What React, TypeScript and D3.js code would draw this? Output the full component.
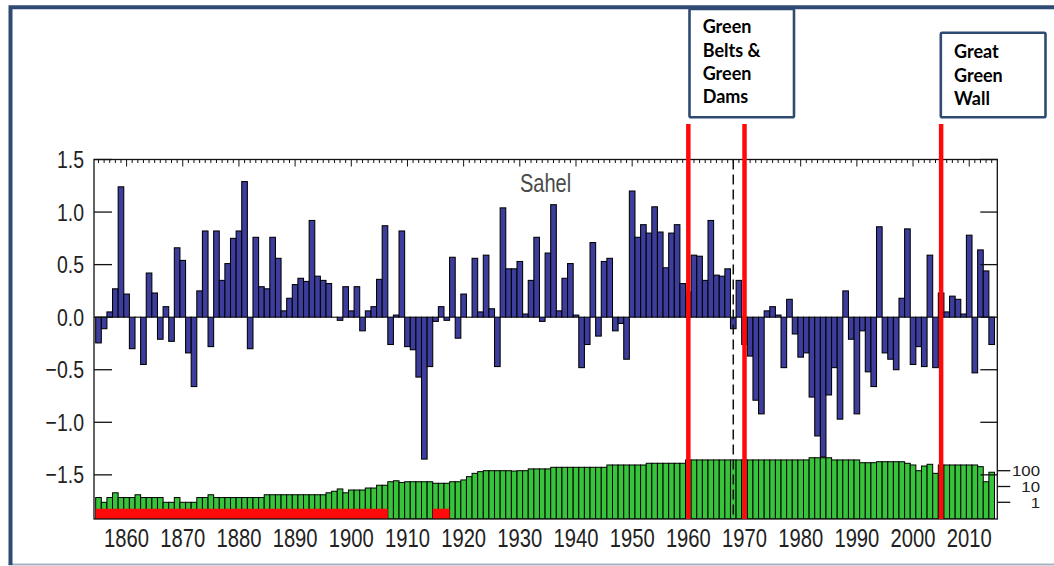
import React from 'react';
import * as d3 from 'd3';

// ---------- data ----------
const years: number[] = d3.range(1855, 2015);

// Sahel precipitation anomaly, 1855–2014
const anomaly: number[] = [
  -0.245, -0.11, 0.05, 0.27, 1.24, 0.22, -0.30, 0.0, -0.45, 0.42,
  0.23, -0.21, 0.10, -0.23, 0.66, 0.54, -0.34, -0.66, 0.25, 0.82,
  -0.28, 0.82, 0.35, 0.51, 0.75, 0.82, 1.29, -0.30, 0.76, 0.29,
  0.27, 0.76, 0.56, 0.06, 0.18, 0.31, 0.37, 0.34, 0.92, 0.39,
  0.35, 0.32, 0.0, -0.03, 0.29, 0.06, 0.29, -0.13, 0.06, 0.10,
  0.36, 0.87, -0.26, 0.02, 0.82, -0.28, -0.31, -0.57, -1.35, -0.47,
  -0.04, 0.10, -0.03, 0.57, -0.20, 0.22, 0.0, 0.56, 0.05, 0.59,
  0.08, -0.47, 1.04, 0.46, 0.46, 0.53, 0.03, 0.35, 0.76, -0.04,
  0.61, 1.07, 0.06, 0.37, 0.51, 0.02, -0.48, -0.26, 0.71, -0.18,
  0.53, 0.56, -0.13, -0.06, -0.40, 1.20, 0.76, 0.88, 0.80, 1.05,
  0.81, 0.47, 0.80, 0.88, 0.32, 0.24, 0.59, 0.58, 0.35, 0.92,
  0.40, 0.39, 0.46, -0.11, 0.35, -0.26, -0.37, -0.79, -0.92, 0.06,
  0.10, 0.02, -0.48, 0.17, -0.16, -0.38, -0.34, -0.76, -1.13, -1.33,
  -0.74, -0.48, -0.97, 0.25, -0.21, -0.92, -0.13, -0.52, -0.66, 0.86,
  -0.34, -0.40, -0.50, 0.18, 0.84, -0.45, -0.28, -0.47, 0.59, -0.48,
  0.23, 0.05, 0.20, 0.17, 0.03, 0.78, -0.53, 0.64, 0.44, -0.26,
];

// number of stations (log scale), 1855–2014
const stations: number[] = [
  2, 1, 2, 4, 2, 2, 2, 3, 2, 2,
  2, 2, 1, 1, 2, 1, 1, 1, 2, 2,
  3, 2, 2, 2, 2, 2, 2, 2, 2, 2,
  3, 3, 3, 3, 3, 3, 3, 3, 3, 3,
  3, 4, 5, 7, 4, 6, 6, 6, 8, 8,
  12, 12, 20, 23, 18, 20, 20, 20, 20, 20,
  16, 16, 16, 20, 20, 26, 42, 68, 87, 100,
  100, 100, 100, 100, 95, 100, 100, 130, 130, 130,
  130, 164, 164, 164, 164, 164, 164, 164, 164, 164,
  164, 230, 230, 230, 230, 230, 230, 230, 295, 295,
  295, 295, 295, 295, 295, 480, 480, 480, 480, 480,
  480, 480, 480, 480, 480, 480, 480, 480, 480, 480,
  480, 480, 480, 480, 480, 480, 480, 660, 660, 660,
  660, 480, 480, 480, 480, 480, 320, 320, 320, 370,
  370, 370, 370, 370, 295, 230, 100, 198, 254, 68,
  230, 230, 230, 230, 230, 230, 230, 180, 20, 80,
];

const gapPeriods: [number, number][] = [[1855, 1906], [1915, 1917]];
const eventYears: number[] = [1960, 1970, 2005];
const markerYear = 1968;
const yTicks: number[] = [-1.5, -1.0, -0.5, 0.0, 0.5, 1.0, 1.5];
const xTickLabels: number[] = [1860, 1870, 1880, 1890, 1900, 1910, 1920, 1930, 1940, 1950, 1960, 1970, 1980, 1990, 2000, 2010];
const stationTicks: number[] = [1, 10, 100];
const regionLabel = 'Sahel';
const annotationA: string[] = ['Green', 'Belts &', 'Green', 'Dams'];
const annotationB: string[] = ['Great', 'Green', 'Wall'];

// ---------- layout ----------
const W = 1054;
const H = 566;
const P = { left: 94, right: 997.3, top: 159.5, bottom: 519 };
const FONT = "'Liberation Sans', Arial, Helvetica, sans-serif";
const NAVY = '#2f4a73';
const BLUE = '#3d3d9e';
const GREEN = '#38c43a';
const RED = '#ff0a0a';

const fmt = (v: number) => (v < 0 ? '\u2212' : '') + Math.abs(v).toFixed(1);

export default function App() {
  const x = d3.scaleLinear().domain([1854.2, 2015]).range([P.left, P.right]);
  const bw = x(1) - x(0);
  const y = d3.scaleLinear().domain([-1.92, 1.5]).range([P.bottom, P.top]);
  const ys = d3.scaleLog().domain([1, 100]).range([502.3, 470.7]);

  const tickYears = d3.range(1855, 2015);

  return (
    <svg
      width={W}
      height={H}
      viewBox={`0 0 ${W} ${H}`}
      style={{ position: 'fixed', left: 0, top: 0, background: '#fff' }}
    >
      <rect x={0} y={0} width={W} height={H} fill="#fff" />
      <defs>
        <clipPath id="plotClip">
          <rect x={P.left} y={P.top} width={P.right - P.left} height={P.bottom - P.top} />
        </clipPath>
      </defs>

      {/* slide border */}
      <line x1={8.5} y1={564.5} x2={W} y2={564.5} stroke="#a9b1c2" strokeWidth={2} />
      <path d={`M ${W} 7.2 H 10.5 V 565`} fill="none" stroke={NAVY} strokeWidth={4} />

      <g clipPath="url(#plotClip)">
        {/* anomaly bars */}
        {years.map((yr, i) => {
          const v = anomaly[i];
          const y0 = y(Math.max(0, v));
          const y1 = y(Math.min(0, v));
          return (
            <rect
              key={'a' + yr}
              x={x(yr) - bw / 2}
              y={y0}
              width={bw}
              height={Math.max(0.01, y1 - y0)}
              fill={BLUE}
              stroke="#000"
              strokeWidth={1.05}
            />
          );
        })}
        {/* station bars */}
        {years.map((yr, i) => {
          const top = ys(stations[i]);
          return (
            <rect
              key={'s' + yr}
              x={x(yr) - bw / 2}
              y={top}
              width={bw}
              height={P.bottom - top}
              fill={GREEN}
              stroke="#000"
              strokeWidth={1}
            />
          );
        })}
        {/* insufficient data periods */}
        {gapPeriods.map(([a, b]) => (
          <rect
            key={'g' + a}
            x={x(a) - bw / 2}
            y={P.bottom - 10.3}
            width={x(b) - x(a) + bw}
            height={10.3}
            fill={RED}
          />
        ))}
      </g>

      {/* frame */}
      <rect x={P.left} y={P.top} width={P.right - P.left} height={P.bottom - P.top} fill="none" stroke="#111" strokeWidth={1.3} />

      {/* top year ticks */}
      {tickYears.map((yr) => (
        <line
          key={'t' + yr}
          x1={x(yr)}
          x2={x(yr)}
          y1={P.top}
          y2={P.top + (yr % 10 === 0 ? 7 : 3.5)}
          stroke="#111"
          strokeWidth={1}
        />
      ))}

      {/* y ticks left and right */}
      {yTicks.map((t) => (
        <g key={'y' + t}>
          <line x1={P.left} x2={P.left + 18} y1={y(t)} y2={y(t)} stroke="#111" strokeWidth={1.3} />
          <line x1={P.right - 17} x2={P.right} y1={y(t)} y2={y(t)} stroke="#111" strokeWidth={1.3} />
          <text
            transform={`translate(84, ${y(t) + 8.6}) scale(1, 1.27)`}
            textAnchor="end"
            fontFamily={FONT}
            fontSize={19.5}
            fill="#222"
          >
            {fmt(t)}
          </text>
        </g>
      ))}

      {/* x labels */}
      {xTickLabels.map((yr) => (
        <text
          key={'xl' + yr}
          transform={`translate(${x(yr)}, 546.5) scale(1, 1.27)`}
          textAnchor="middle"
          fontFamily={FONT}
          fontSize={20.2}
          fill="#222"
        >
          {yr}
        </text>
      ))}

      {/* station axis (right) */}
      {stationTicks.map((n) => (
        <g key={'st' + n}>
          <line x1={P.right} x2={P.right + 13} y1={ys(n)} y2={ys(n)} stroke="#111" strokeWidth={1.3} />
          <text
            transform={`translate(1040, ${ys(n) + 5.6}) scale(1.12, 1)`}
            textAnchor="end"
            fontFamily={FONT}
            fontSize={15}
            fill="#222"
          >
            {n}
          </text>
        </g>
      ))}

      {/* region label */}
      <text
        transform={`translate(520, 191.5) scale(1, 1.28)`}
        fontFamily={FONT}
        fontSize={20}
        fill="#4a4a4a"
      >
        {regionLabel}
      </text>

      {/* dashed marker */}
      <line
        x1={x(markerYear)}
        x2={x(markerYear)}
        y1={P.top}
        y2={P.bottom}
        stroke="#111"
        strokeWidth={1.5}
        strokeDasharray="10,5"
      />

      {/* red event lines */}
      {eventYears.map((yr) => (
        <line key={'e' + yr} x1={x(yr)} x2={x(yr)} y1={124} y2={P.bottom} stroke={RED} strokeWidth={4.5} />
      ))}

      {/* annotation boxes */}
      <rect x={689.5} y={9} width={104.5} height={108.3} fill="#fff" stroke={NAVY} strokeWidth={2.6} rx={1.5} />
      {annotationA.map((s, i) => (
        <text key={'A' + i} x={702.7} y={33.3 + i * 23.3} fontFamily="Lato, 'Open Sans', sans-serif" fontWeight={700} fontSize={18} fill="#000">
          {s}
        </text>
      ))}
      <rect x={940.8} y={32.8} width={104.7} height={84.5} fill="#fff" stroke={NAVY} strokeWidth={2.6} rx={1.5} />
      {annotationB.map((s, i) => (
        <text key={'B' + i} x={954} y={58.3 + i * 23.4} fontFamily="Lato, 'Open Sans', sans-serif" fontWeight={700} fontSize={18} fill="#000">
          {s}
        </text>
      ))}
    </svg>
  );
}
